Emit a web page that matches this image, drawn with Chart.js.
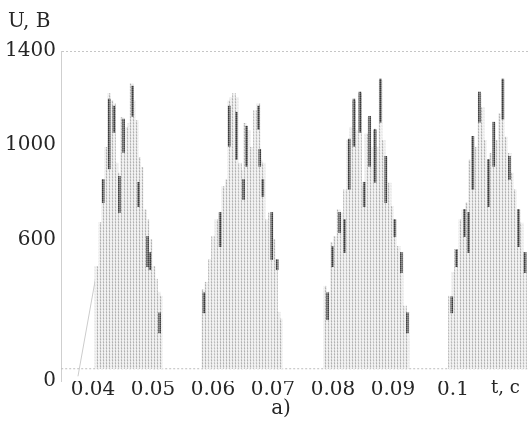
<!DOCTYPE html>
<html>
<head>
<meta charset="utf-8">
<script src="https://cdn.jsdelivr.net/npm/chart.js@4.4.1/dist/chart.umd.min.js"></script>
<style>
  html, body { margin: 0; padding: 0; background: #fff; }
  canvas { display: block; }
</style>
</head>
<body>
<canvas id="myChart" width="528" height="443"></canvas>
<script>
"use strict";

// voltage columns of the four pulse bursts: time (s) and top of column (V)
const columnTimes = [
    0.0406, 0.0412, 0.0417, 0.0422, 0.0427, 0.0431, 0.0435, 0.0439, 0.0444, 0.0448, 0.0452, 0.0456, 0.0461,
    0.0464, 0.0468, 0.0473, 0.0477, 0.0481, 0.0487, 0.0491, 0.0496, 0.0501, 0.0505, 0.0509, 0.0513,
    0.0584, 0.0589, 0.0595, 0.0600, 0.0606, 0.0612, 0.0617, 0.0623, 0.0627, 0.0631, 0.0635, 0.0639, 0.0645,
    0.0649, 0.0653, 0.0659, 0.0664, 0.0670, 0.0676, 0.0679, 0.0684, 0.0689, 0.0695, 0.0701, 0.0705, 0.0709, 0.0713,
    0.0787, 0.0792, 0.0798, 0.0803, 0.0809, 0.0814, 0.0820, 0.0826, 0.0831, 0.0835, 0.0839, 0.0845, 0.0851,
    0.0856, 0.0861, 0.0864, 0.0870, 0.0874, 0.0879, 0.0884, 0.0888, 0.0894, 0.0898, 0.0903, 0.0909, 0.0914, 0.0920, 0.0924,
    0.0995, 0.1001, 0.1005, 0.1012, 0.1017, 0.1023, 0.1028, 0.1033, 0.1038, 0.1044, 0.1049, 0.1053, 0.1059,
    0.1063, 0.1068, 0.1073, 0.1078, 0.1083, 0.1088, 0.1094, 0.1098, 0.1103, 0.1109, 0.1114, 0.1120
];
const columnTops = [
    486, 672, 853, 991, 1219, 1189, 1177, 924, 882, 1118, 1063, 1076, 1093,
    1261, 1189, 1105, 949, 907, 726, 684, 600, 486, 432, 377, 360,
    389, 419, 516, 613, 684, 713, 825, 853, 1189, 1203, 1219, 1203, 924,
    895, 1093, 1063, 991, 1147, 1177, 937, 924, 684, 713, 600, 516, 292, 263,
    402, 377, 587, 613, 726, 713, 811, 1021, 1076, 1189, 1063, 1219, 825,
    1049, 1118, 991, 1063, 991, 1274, 1021, 949, 840, 741, 684, 571, 545, 318, 292,
    360, 461, 558, 684, 726, 756, 937, 1035, 991, 1219, 1160, 1021, 937,
    966, 1093, 1021, 1133, 1274, 1035, 966, 882, 811, 726, 670, 545
];

// dark streaks inside the bursts: time (s), from (V), to (V)
const streakTimes = [
    0.0417, 0.0427, 0.0435, 0.0444, 0.0451, 0.0466, 0.0476, 0.0491, 0.0495, 0.0511,
    0.0585, 0.0612, 0.0627, 0.0639, 0.0651, 0.0656, 0.0676, 0.0678, 0.0683, 0.0698, 0.0707,
    0.0791, 0.0799, 0.0811, 0.0819, 0.0827, 0.0835, 0.0845, 0.0852, 0.0861, 0.0870, 0.0879, 0.0888, 0.0903, 0.0914, 0.0924,
    0.0998, 0.1006, 0.1019, 0.1026, 0.1033, 0.1044, 0.1059, 0.1068, 0.1083, 0.1094, 0.1109, 0.1120
];
const streakLows = [
    757, 900, 1055, 715, 970, 1123, 740, 485, 472, 204,
    289, 570, 996, 940, 770, 911, 1068, 911, 783, 515, 472,
    260, 485, 630, 545, 813, 996, 1055, 740, 911, 843, 1098, 757, 613, 460, 204,
    289, 485, 613, 545, 813, 1098, 740, 911, 1111, 855, 570, 460
];
const streakHighs = [
    855, 1196, 1166, 868, 1111, 1251, 843, 613, 545, 289,
    374, 715, 1166, 1140, 855, 1081, 1166, 983, 855, 715, 515,
    374, 570, 715, 685, 1026, 1196, 1226, 843, 1123, 1068, 1281, 953, 685, 545, 289,
    357, 557, 728, 715, 1038, 1226, 940, 1098, 1281, 953, 728, 545
];

// signal level between bursts and the faint rising edge before the first burst
const baseTimes = [0.0347, 0.1125];
const baseValues = [52, 52];
const rampTimes = [0.0375, 0.0406];
const rampValues = [20, 460];

const xTickValues = [0.04, 0.05, 0.06, 0.07, 0.08, 0.09, 0.1];
const xTickLabels = ["0.04", "0.05", "0.06", "0.07", "0.08", "0.09", "0.1"];
const yTickValues = [0, 600, 1000, 1400];

const textFont = "'DejaVu Serif', serif";
const textColor = "#262626";

document.addEventListener("DOMContentLoaded", init);

function makePattern(w, h, cells){
    const c = document.createElement("canvas");
    c.width = w;
    c.height = h;
    const g = c.getContext("2d");
    for (let i = 0; i < cells.length; i++){
        g.fillStyle = cells[i][2];
        g.fillRect(cells[i][0], cells[i][1], 1, 1);
    }
    return g.createPattern(c, "repeat");
}

const captions = {
    id: "captions",
    afterDraw(chart){
        const ctx = chart.ctx;
        ctx.save();
        ctx.fillStyle = textColor;
        ctx.textBaseline = "middle";
        ctx.textAlign = "left";
        ctx.font = "20px " + textFont;
        ctx.fillText("U, B", 8, 22);
        ctx.font = "18px " + textFont;
        ctx.fillText("t, c", 491, 388);
        ctx.textAlign = "center";
        ctx.font = "20px " + textFont;
        ctx.fillText("a)", 281, 409);
        ctx.restore();
    }
};

function init(){
    const lightTexture = makePattern(3, 3, [
        [0, 0, "#eeeeee"], [1, 0, "#b0b0b0"], [2, 0, "#e8e8e8"],
        [0, 1, "#f5f5f5"], [1, 1, "#d6d6d6"], [2, 1, "#f0f0f0"],
        [0, 2, "#ebebeb"], [1, 2, "#c2c2c2"], [2, 2, "#f3f3f3"]
    ]);
    const darkTexture = makePattern(2, 2, [
        [0, 0, "#383838"], [1, 0, "#777777"],
        [0, 1, "#5e5e5e"], [1, 1, "#959595"]
    ]);

    const columns = [];
    for (let i = 0; i < columnTimes.length; i++){
        columns.push({x: columnTimes[i], y: [baseValues[0], columnTops[i]]});
    }
    const streaks = [];
    for (let i = 0; i < streakTimes.length; i++){
        streaks.push({x: streakTimes[i], y: [streakLows[i], streakHighs[i]]});
    }

    const ctx = document.getElementById("myChart").getContext("2d");
    const myChart = new Chart(ctx, {
        type: "bar",
        data: {
            datasets: [{
                type: "line",
                data: baseTimes.map((t, i) => ({x: t, y: baseValues[i]})),
                borderColor: "#bdbdbd",
                borderWidth: 1,
                borderDash: [2, 2],
                pointRadius: 0,
                order: 3
            }, {
                type: "line",
                data: rampTimes.map((t, i) => ({x: t, y: rampValues[i]})),
                borderColor: "#cccccc",
                borderWidth: 1,
                pointRadius: 0,
                order: 3
            }, {
                data: columns,
                backgroundColor: lightTexture,
                barThickness: 3,
                grouped: false,
                order: 2
            }, {
                data: streaks,
                backgroundColor: darkTexture,
                barThickness: 2,
                grouped: false,
                order: 1
            }]
        },
        options: {
            responsive: false,
            animation: false,
            devicePixelRatio: 1,
            layout: {
                padding: {top: 51, left: 0, right: 0, bottom: 0}
            },
            plugins: {
                legend: {display: false},
                tooltip: {enabled: false}
            },
            scales: {
                x: {
                    type: "linear",
                    min: 0.03467,
                    max: 0.1125,
                    offset: false,
                    grid: {display: false, drawTicks: false},
                    border: {display: false},
                    afterBuildTicks: (scale) => {
                        scale.ticks = xTickValues.map(v => ({value: v}));
                    },
                    afterFit: (scale) => {
                        scale.height = 62;
                    },
                    ticks: {
                        autoSkip: false,
                        maxRotation: 0,
                        padding: -3,
                        color: textColor,
                        font: {family: textFont, size: 20},
                        callback: (value, index) => xTickLabels[index]
                    }
                },
                y: {
                    min: 0,
                    max: 1400,
                    grid: {
                        drawTicks: false,
                        color: (c) => c.tick && c.tick.value === 1400 ? "#c6c6c6" : "rgba(0,0,0,0)"
                    },
                    border: {display: true, color: "#cfcfcf", width: 1, dash: [2, 2]},
                    afterBuildTicks: (scale) => {
                        scale.ticks = yTickValues.map(v => ({value: v}));
                    },
                    afterFit: (scale) => {
                        scale.width = 61;
                    },
                    ticks: {
                        padding: 5,
                        color: textColor,
                        font: {family: textFont, size: 20},
                        callback: (value) => String(value)
                    }
                }
            }
        },
        plugins: [captions]
    });
}
</script>
</body>
</html>
